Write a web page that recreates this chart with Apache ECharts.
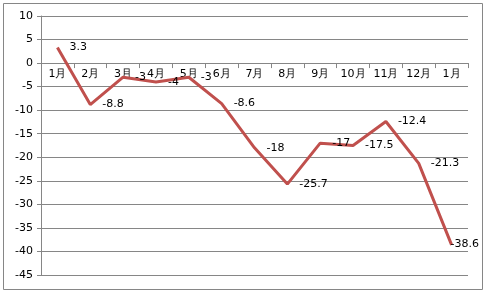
<!DOCTYPE html>
<html><head><meta charset="utf-8">
<script src="https://cdn.jsdelivr.net/npm/echarts@6/dist/echarts.min.js"></script>
<style>html,body{margin:0;padding:0;background:#fff}#c{width:485px;height:292px}</style>
</head><body><div id="c"></div>
<script>
const categories = ['1月','2月','3月','4月','5月','6月','7月','8月','9月','10月','11月','12月','1月'];
const values = [3.3, -8.8, -3, -4, -3, -8.6, -18, -25.7, -17, -17.5, -12.4, -21.3, -38.6];
const yTicks = {min: -45, max: 10, interval: 5};

const chart = echarts.init(document.getElementById('c'), null, {renderer: 'canvas'});
const font = 'DejaVu Sans';
const gridTop = 16, gridBottom = 17, H = 292;
const plotH = H - gridTop - gridBottom;
const zeroOffset = -plotH * (0 - yTicks.min) / (yTicks.max - yTicks.min);
const lastIdx = values.length - 1;
chart.setOption({
  animation: false,
  backgroundColor: '#fff',
  graphic: [{type: 'rect', shape: {x: 3.5, y: 3.5, width: 479, height: 286}, style: {fill: 'none', stroke: '#868686', lineWidth: 1}}],
  grid: {left: 41, right: 17, top: gridTop, bottom: gridBottom, containLabel: false},
  xAxis: {
    type: 'category', data: categories, boundaryGap: true, position: 'bottom', offset: zeroOffset,
    axisLine: {show: true, onZero: false, lineStyle: {color: '#868686', width: 1}},
    axisTick: {show: true, length: 5, lineStyle: {color: '#868686'}},
    axisLabel: {color: '#000', fontFamily: font, fontSize: 11, margin: 6, interval: 0},
    splitLine: {show: false}
  },
  yAxis: {
    type: 'value', min: yTicks.min, max: yTicks.max, interval: yTicks.interval,
    axisLine: {show: true, onZero: false, lineStyle: {color: '#868686', width: 1}},
    axisTick: {show: true, length: 4, lineStyle: {color: '#868686'}},
    axisLabel: {color: '#000', fontFamily: font, fontSize: 11, margin: 8},
    splitLine: {show: true, lineStyle: {color: '#868686', width: 1}}
  },
  series: [{
    type: 'line', data: values, symbol: 'circle', symbolSize: 0, showSymbol: true,
    itemStyle: {color: '#C0504D'},
    lineStyle: {color: '#C0504D', width: 3},
    labelLayout: function (p) { return p.dataIndex === lastIdx ? {hideOverlap: false, dx: -13, dy: -1} : {hideOverlap: false}; },
    label: {show: true, position: 'right', distance: 12, offset: [0, 2], color: '#000', fontFamily: font, fontSize: 11}
  }]
});
</script></body></html>
